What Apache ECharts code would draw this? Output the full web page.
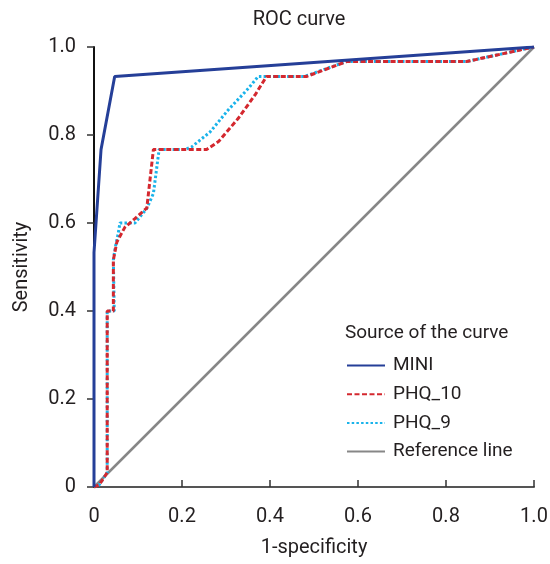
<!DOCTYPE html>
<html>
<head>
<meta charset="utf-8">
<script src="https://cdn.jsdelivr.net/npm/echarts@6/dist/echarts.min.js"></script>
<style>html,body{margin:0;padding:0;background:#fff;}#c{width:550px;height:564px;}</style>
</head>
<body>
<div id="c"></div>
<script>
const xTicks = [0, 0.2, 0.4, 0.6, 0.8, 1.0];
const yTicks = [0, 0.2, 0.4, 0.6, 0.8, 1.0];
const seriesNames = ['MINI', 'PHQ_10', 'PHQ_9', 'Reference line'];
const mini = [[0,0],[0,0.533],[0.016,0.767],[0.047,0.933],[1,1]];
const phq10 = [[0,0],[0.012,0.005],[0.03,0.033],[0.03,0.4],[0.044,0.4],[0.044,0.516],[0.052,0.557],[0.07,0.59],[0.093,0.61],[0.12,0.634],[0.123,0.637],[0.135,0.767],[0.256,0.767],[0.283,0.785],[0.328,0.838],[0.366,0.891],[0.392,0.933],[0.483,0.933],[0.574,0.967],[0.847,0.967],[1,1]];
const phq9 = [[0,0],[0.012,0.005],[0.03,0.033],[0.03,0.4],[0.046,0.4],[0.044,0.516],[0.048,0.543],[0.055,0.576],[0.059,0.6],[0.093,0.6],[0.12,0.633],[0.135,0.667],[0.148,0.767],[0.207,0.767],[0.222,0.773],[0.264,0.807],[0.305,0.857],[0.351,0.906],[0.373,0.933],[0.478,0.933],[0.574,0.967],[0.847,0.967],[1,1]];
const refLine = [[0,0],[1,1]];

const fmt = v => (v === 0 ? '0' : v.toFixed(1));
const font = 'Roboto, "Noto Sans", sans-serif';
const txt = '#231f20';

const chart = echarts.init(document.getElementById('c'), null, {renderer: 'canvas'});
chart.setOption({
  animation: false,
  backgroundColor: '#fff',
  textStyle: {fontFamily: font},
  grid: {left: 94, right: 16, top: 47, bottom: 77, containLabel: false, outerBoundsMode: 'none'},
  graphic: [
    {type: 'text', x: 299, y: 20, style: {text: 'ROC curve', fontSize: 20, fontFamily: font, fill: txt, textAlign: 'center', textVerticalAlign: 'middle'}},
    {type: 'text', x: 345, y: 333, style: {text: 'Source of the curve', fontSize: 19, fontFamily: font, fill: txt, textAlign: 'left', textVerticalAlign: 'middle'}}
  ],
  legend: {
    data: seriesNames,
    orient: 'vertical',
    left: 341,
    top: 351,
    itemWidth: 38,
    itemHeight: 20,
    itemGap: 9.7,
    itemStyle: {opacity: 0},
    textStyle: {fontSize: 19, color: txt, fontFamily: font, padding: [0,0,0,3]}
  },
  xAxis: {
    type: 'value', min: 0, max: 1, interval: 0.2,
    name: '1-specificity', nameLocation: 'middle', nameGap: 51,
    nameTextStyle: {fontSize: 20, color: txt, fontFamily: font},
    axisLine: {show: true, lineStyle: {color: '#555', width: 2}},
    axisTick: {show: true, inside: true, length: 7, lineStyle: {color: '#333', width: 1.5}},
    axisLabel: {fontSize: 20, color: txt, margin: 20, formatter: fmt, fontFamily: font},
    splitLine: {show: false}
  },
  yAxis: {
    type: 'value', min: 0, max: 1, interval: 0.2,
    name: 'Sensitivity', nameLocation: 'middle', nameGap: 62, nameRotate: 90,
    nameTextStyle: {fontSize: 20, color: txt, fontFamily: font},
    axisLine: {show: true, lineStyle: {color: '#111', width: 2}},
    axisTick: {show: true, inside: false, length: 7, lineStyle: {color: '#333', width: 1.5}},
    axisLabel: {fontSize: 20, color: txt, margin: 18, formatter: fmt, fontFamily: font},
    splitLine: {show: false}
  },
  series: [
    {name: 'Reference line', type: 'line', data: refLine, symbol: 'none', z: 2,
     lineStyle: {color: '#878787', width: 2.5}, itemStyle: {color: '#878787'}},
    {name: 'PHQ_9', type: 'line', data: phq9, symbol: 'none', z: 3,
     lineStyle: {color: '#1ab3ea', width: 3, type: [2.5, 2.2]}, itemStyle: {color: '#1ab3ea'}},
    {name: 'PHQ_10', type: 'line', data: phq10, symbol: 'none', z: 4,
     lineStyle: {color: '#d4282f', width: 3, type: [5, 2.5]}, itemStyle: {color: '#d4282f'}},
    {name: 'MINI', type: 'line', data: mini, symbol: 'none', z: 5,
     lineStyle: {color: '#253f98', width: 3}, itemStyle: {color: '#253f98'}}
  ]
});
</script>
</body>
</html>
